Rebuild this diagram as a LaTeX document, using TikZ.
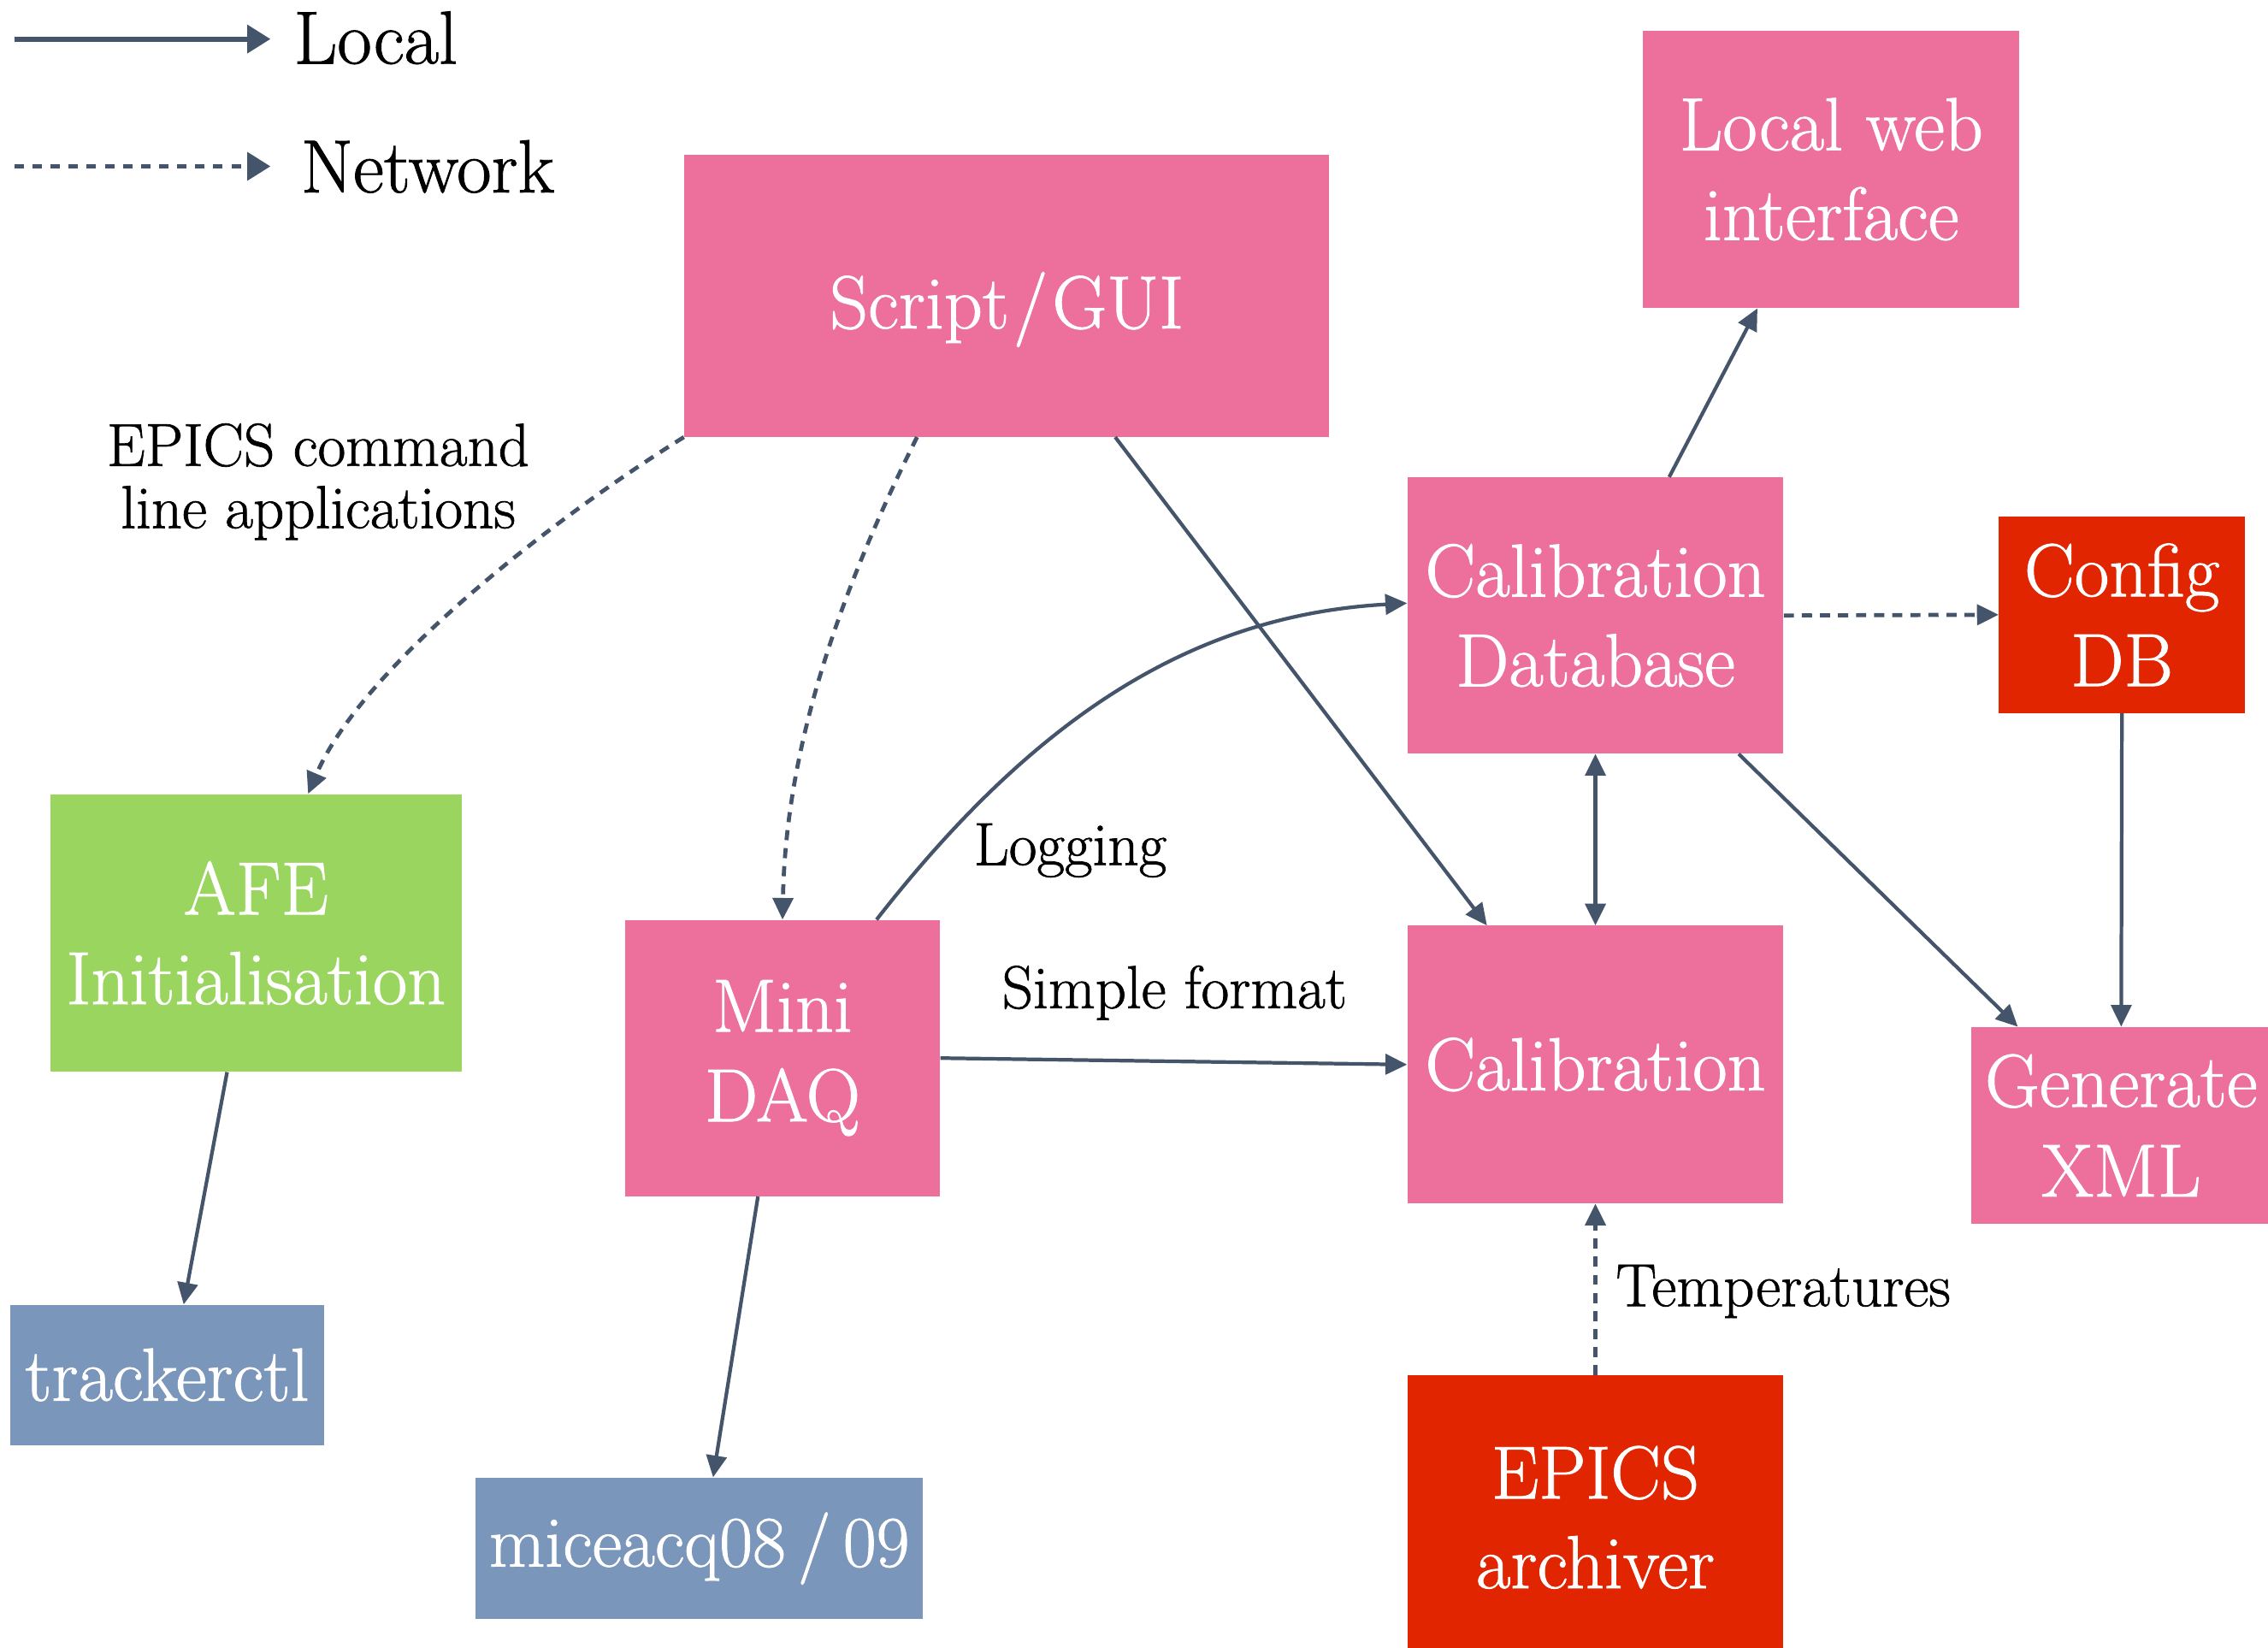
\documentclass[tikz,border=0pt]{standalone}
\usepackage{fontspec}
\newfontfamily\heavyrm{Latin Modern Roman}[FakeBold=1.0]
\usetikzlibrary{arrows.meta}
\definecolor{boxpink}{HTML}{EC6F9C}
\definecolor{boxred}{HTML}{E12500}
\definecolor{boxgreen}{HTML}{9AD560}
\definecolor{boxblue}{HTML}{7A96BA}
\definecolor{linecol}{HTML}{44546A}
\begin{document}
\begin{tikzpicture}[x=1pt,y=-1pt,
  box/.style={rectangle, inner sep=0pt, text=white, align=center,
    font=\heavyrm\fontsize{52}{62}\selectfont},
  conn/.style={draw=linecol, line width=2.5pt, -{Triangle[length=15pt,width=14pt]}},
  net/.style={conn, line width=2.8pt, dash pattern=on 7pt off 5.5pt},
  both/.style={draw=linecol, line width=2.5pt,
    {Triangle[length=15pt,width=14pt]}-{Triangle[length=15pt,width=14pt]}},
  key/.style={draw=linecol, line width=3.4pt, -{Triangle[length=16pt,width=19pt]}},
  keytext/.style={inner sep=0pt, anchor=base west, font=\heavyrm\fontsize{52}{58}\selectfont},
  lbl/.style={inner sep=0pt, align=center, font=\heavyrm\fontsize{42}{43}\selectfont}]

% canvas
\path[use as bounding box, fill=white] (0,0) rectangle (1568,1139);

% legend
\coordinate (k1a) at (10,27);
\coordinate (k1b) at (187,27);
\coordinate (k2a) at (10,115);
\coordinate (k2b) at (187,115);
\draw[key] (k1a) -- (k1b);
\draw[key, dash pattern=on 6.5pt off 6pt] (k2a) -- (k2b);
\node[keytext] (klocal) at (203,44) {Local};
\node[keytext] (knet) at (208,133) {Network};

% boxes
\node[box, fill=boxpink, minimum width=446pt, minimum height=195pt, text height=54pt, text depth=9pt] (gui) at (696,204.5) {Script\kern3pt/\kern3pt GUI};
\node[box, fill=boxpink, minimum width=260pt, minimum height=192pt] (web) at (1266,117) {Local web\\interface};
\node[box, fill=boxpink, minimum width=260pt, minimum height=191pt] (caldb) at (1103,425.5) {Calibration\\Database};
\node[box, fill=boxred, minimum width=170pt, minimum height=136pt] (cfg) at (1467,425) {Config\\DB};
\node[box, fill=boxgreen, minimum width=284pt, minimum height=192pt] (afe) at (177,645) {AFE\\Initialisation};
\node[box, fill=boxpink, minimum width=218pt, minimum height=191pt] (daq) at (541,731.5) {Mini\\DAQ};
\node[box, fill=boxpink, minimum width=260pt, minimum height=192pt] (cal) at (1103,736) {Calibration};
\node[box, fill=boxpink, minimum width=207pt, minimum height=136pt] (xml) at (1466.5,778) {Generate\\XML};
\node[box, fill=boxblue, minimum width=217pt, minimum height=97pt] (tctl) at (115.5,950.5) {trackerctl};
\node[box, fill=boxblue, minimum width=309pt, minimum height=98pt, font=\heavyrm\fontsize{50}{62}\selectfont] (acq) at (483.5,1070.5) {miceacq08\,/\,09};
\node[box, fill=boxred, minimum width=260pt, minimum height=196pt] (arch) at (1103,1049) {EPICS\\archiver};

% labels
\node[lbl] (cmdline) at (220,333) {EPICS command\\line applications};
\node[lbl, anchor=base] (logging) at (740,598) {Logging};
\node[lbl, anchor=base] (simple) at (812,697) {Simple format};
\node[lbl, anchor=base west] (temps) at (1117,903) {Temperatures};

% connectors
\draw[net] (gui.south west) .. controls +(-93,58) and +(37,-87) .. ([xshift=36pt]afe.north);
\draw[net] ([xshift=-62pt]gui.south) .. controls +(-64,128) and +(2,-104) .. (daq.north);
\draw[conn] ([xshift=75pt]gui.south) -- ([xshift=-75pt]cal.north);
\draw[conn] ([xshift=65pt]daq.north) .. controls +(114,-146) and +(-143,8) .. ([yshift=8.5pt]caldb.west);
\draw[conn] (daq.east) -- (cal.west);
\draw[both] (caldb.south) -- (cal.north);
\draw[conn] ([xshift=51pt]caldb.north) -- ([xshift=-51pt]web.south);
\draw[net] (caldb.east) -- (cfg.west);
\draw[conn] ([xshift=99pt]caldb.south) -- ([xshift=-71.5pt]xml.north);
\draw[conn] (cfg.south) -- (xml.north);
\draw[net] (arch.north) -- (cal.south);
\draw[conn] ([xshift=-20pt]afe.south) -- ([xshift=11.5pt]tctl.north);
\draw[conn] ([xshift=-17pt]daq.south) -- ([xshift=9.5pt]acq.north);
\end{tikzpicture}
\end{document}
